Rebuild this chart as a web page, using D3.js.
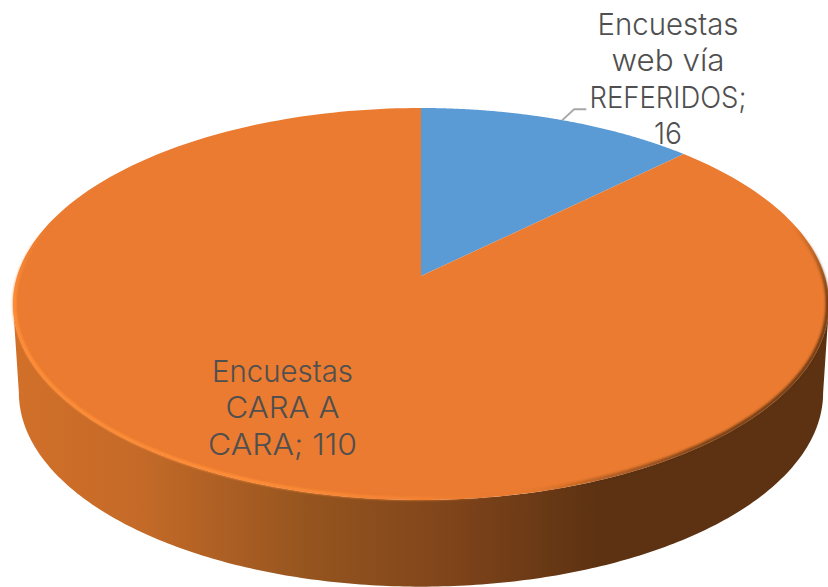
<!DOCTYPE html>
<html><head><meta charset="utf-8">
<style>html,body{margin:0;padding:0;background:#fff;overflow:hidden}svg{display:block}</style>
<script src="https://cdn.jsdelivr.net/npm/d3@7"></script></head>
<body><script>
const categories = ["Encuestas web vía REFERIDOS", "Encuestas CARA A CARA"];
const values = [16, 110];
const sliceColors = ["#5b9bd5", "#ea7b30"];
const labelLines = [
  ["Encuestas", "web vía", "REFERIDOS;", String(values[0])],
  ["Encuestas", "CARA A", "CARA; " + values[1]]
];
const W = 828, H = 587;
const svg = d3.select("body").append("svg").attr("width", W).attr("height", H);
const defs = svg.append("defs");

// perspective disc projection
const B = 1 / 7;
function proj(a, o = {cx: 421, cy: 276, rx: 403.8, ry: 192}) {
  const u = Math.sin(a), v = Math.cos(a), d = 1 + B * v;
  return [o.cx + o.rx * u / d, o.cy - o.ry * v / d];
}
const bottomFrame = {cx: 421, cy: 365, rx: 398, ry: 190};
const line = d3.line().curve(d3.curveLinear);
const arcs = d3.pie().sort(null).value(d => d)(values);
const sample = (a0, a1, n = 240) => d3.range(n + 1).map(i => a0 + (a1 - a0) * i / n);

// gradients
function grad(id, stops) {
  const g = defs.append("linearGradient").attr("id", id).attr("gradientUnits", "userSpaceOnUse")
    .attr("x1", 10).attr("x2", 830).attr("y1", 0).attr("y2", 0);
  stops.forEach(([o, c, op]) => g.append("stop").attr("offset", o).attr("stop-color", c).attr("stop-opacity", op === undefined ? 1 : op));
}
grad("wall", [[0, "#d27029"], [0.16, "#c46a28"], [0.36, "#96551f"], [0.55, "#7d431a"], [0.72, "#5c3212"], [1, "#5c3212"]]);
grad("rim", [[0, "#ff8e38"], [0.3, "#ff8e38"], [0.5, "#f78535", 0.8], [0.6, "#ea7b30", 0], [0.7, "#5c3212", 0.3], [0.85, "#5c3212", 0.85], [1, "#5c3212", 0.9]]);
defs.append("filter").attr("id", "soft").attr("filterUnits", "userSpaceOnUse")
  .attr("x", 0).attr("y", 0).attr("width", W).attr("height", H)
  .append("feGaussianBlur").attr("stdDeviation", 1.2);
const fade = defs.append("linearGradient").attr("id", "fade").attr("gradientUnits", "userSpaceOnUse")
  .attr("x1", 0).attr("x2", 0).attr("y1", 225).attr("y2", 300);
fade.append("stop").attr("offset", 0).attr("stop-color", "#000");
fade.append("stop").attr("offset", 1).attr("stop-color", "#fff");
defs.append("mask").attr("id", "rimMask").attr("maskUnits", "userSpaceOnUse")
  .attr("x", 0).attr("y", 0).attr("width", W).attr("height", H)
  .append("rect").attr("width", W).attr("height", H).attr("fill", "url(#fade)");

// side wall: between the two silhouette points of the disc
const aExt = Math.acos(-B);
const wallPts = sample(aExt, 2 * Math.PI - aExt).map(a => proj(a))
  .concat(sample(2 * Math.PI - aExt, aExt).map(a => proj(a, bottomFrame)));
svg.append("path").attr("d", line(wallPts) + "Z").attr("fill", "url(#wall)");

// top surface
svg.selectAll("path.slice").data(arcs).join("path").attr("class", "slice")
  .attr("d", d => line([proj(0, {cx: 421, cy: 276, rx: 0, ry: 0}), ...sample(d.startAngle, d.endAngle).map(a => proj(a))]) + "Z")
  .attr("fill", (d, i) => sliceColors[i]);

// bevel rim on the visible front edge, just inside the disc
const rimFrame = {cx: 421, cy: 276, rx: 402.3, ry: 190.8};
svg.append("g").attr("mask", "url(#rimMask)")
  .append("path").attr("d", line(sample(Math.PI * 0.36, Math.PI * 1.66).map(a => proj(a, rimFrame))))
  .attr("fill", "none").attr("stroke", "url(#rim)").attr("stroke-width", 3.5).attr("filter", "url(#soft)");

// leader line
const leadStart = proj(arcs[0].endAngle * 0.51);
svg.append("path").attr("d", d3.line()([leadStart, [leadStart[0] + 12, leadStart[1] - 11], [leadStart[0] + 24, leadStart[1] - 11]]))
  .attr("fill", "none").attr("stroke", "#a6a6a6").attr("stroke-width", 2);

// labels
const labelPos = [{x: 668, y: 35, w: [141, 113, 157, 28]}, {x: 282.5, y: 382, w: [141, 114, 149]}];
labelLines.forEach((ls, i) => {
  const t = svg.append("text").attr("font-family", "Inter, Lato, sans-serif").attr("font-size", 30)
    .attr("font-weight", 300).attr("fill", "#4f4f4f").attr("text-anchor", "middle");
  ls.forEach((s, j) => t.append("tspan").attr("x", labelPos[i].x).attr("y", labelPos[i].y + j * 36.4)
    .attr("textLength", labelPos[i].w[j]).attr("lengthAdjust", "spacingAndGlyphs").text(s));
});
</script></body></html>
